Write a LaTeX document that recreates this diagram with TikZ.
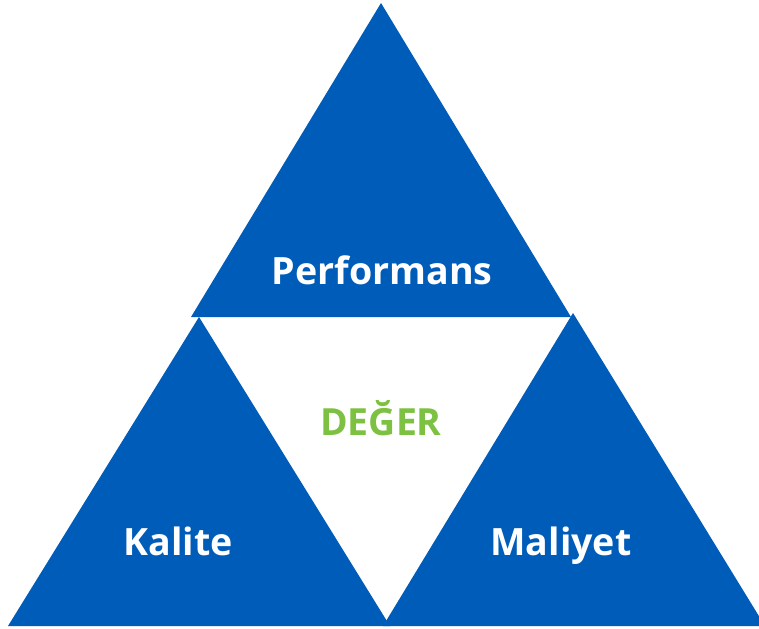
\documentclass[tikz,border=0pt]{standalone}
\usepackage{fontspec}
\setmainfont{Open Sans}
\definecolor{triblue}{HTML}{005CB9}
\definecolor{valgreen}{HTML}{7DC142}
\tikzset{
    tri/.style={fill=triblue, draw=none},
    lbl/.style={text=white, font=\bfseries\fontsize{21.4}{25}\selectfont},
    core/.style={text=valgreen, font=\bfseries\fontsize{21.3}{25}\selectfont}
}
\begin{document}
\begin{tikzpicture}[x=0.02cm, y=-0.02cm]
        \clip (0,0) rectangle (759,628);
        \fill[white] (0,0) rectangle (759,628);

        % top
        \fill[tri] (381,3) -- (571,317) -- (191,317) -- cycle;
        % left
        \fill[tri] (199,317) -- (390,626) -- (8,626) -- cycle;
        % right
        \fill[tri] (573,313) -- (765,626) -- (383,626) -- cycle;

        \node[lbl] (perf) at (382,270) {Performans};
        \node[lbl] (kal) at (178,541) {Kalite};
        \node[lbl] (mal) at (561,546) {Maliyet};
        \node[core] (deg) at (381,418) {DEĞER};

    \end{tikzpicture}
\end{document}
